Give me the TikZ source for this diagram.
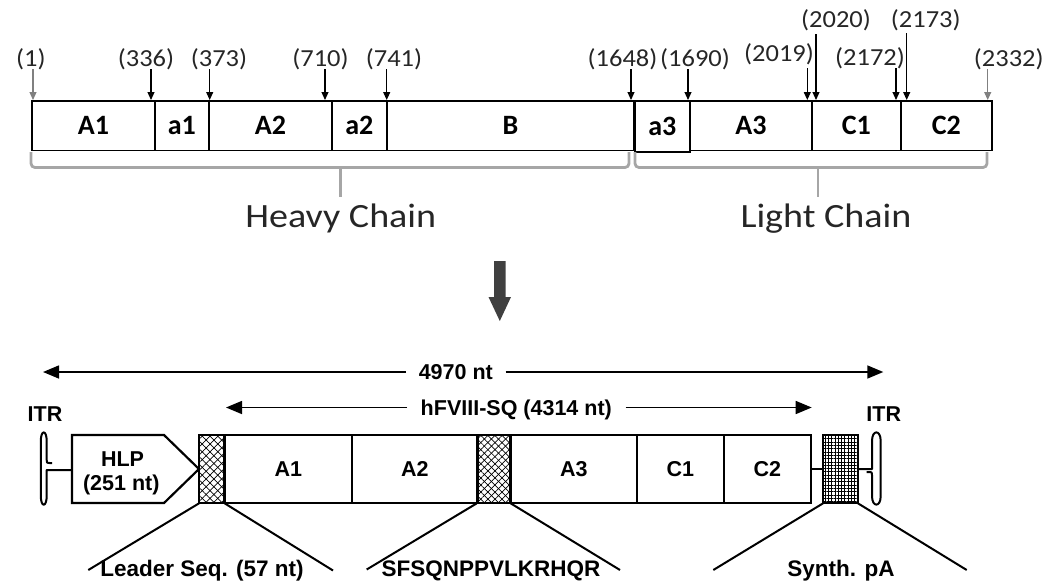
\documentclass[tikz,border=0pt]{standalone}
\usepackage{fontspec}
\setmainfont{Carlito}
\newfontfamily\arialf{Liberation Sans}
\usepackage{graphicx}
\usetikzlibrary{arrows.meta,patterns,patterns.meta}
\definecolor{brackgray}{HTML}{A6A6A6}
\definecolor{arrdark}{HTML}{404040}
\begin{document}
\begin{tikzpicture}[x=1pt,y=-1pt,
  topseg/.style={draw, line width=1.8pt, inner sep=0pt, minimum height=49.5pt, anchor=west,
    font=\fontsize{28}{28}\selectfont\bfseries},
  numlab/.style={font=\fontsize{24.5}{24.5}\selectfont, anchor=base, inner sep=0pt, text=black!85},
  pinarr/.style={line width=1.1pt, -{Triangle[length=8pt,width=7pt]}},
  brack/.style={draw=brackgray, line width=2.8pt, rounded corners=4pt},
  chainlab/.style={font=\fontsize{34}{34}\selectfont, anchor=base, inner sep=0pt, text=black!85},
  botfont/.style={font=\arialf\bfseries\fontsize{21.5}{21.5}\selectfont},
  fanfont/.style={font=\arialf\bfseries\fontsize{22.5}{22.5}\selectfont},
  botseg/.style={botfont, draw, line width=2.2pt, inner sep=0pt, minimum height=68pt, anchor=west,
    text height=15.5pt, text depth=0pt},
  botlab/.style={botfont, inner sep=0pt, text height=15.5pt, text depth=0pt},
  lenarr/.style={line width=1.5pt, -{Triangle[length=16pt,width=13pt]}},
  fan/.style={line width=2pt},
  itr/.style={line width=2pt, line join=round},
  leadpat/.style={preaction={pattern={Lines[angle=45,distance=5.5pt,line width=0.7pt]}},
    pattern={Lines[angle=-45,distance=5.5pt,line width=0.7pt]}},
  sqpat/.style={preaction={pattern={Lines[angle=45,distance=5pt,line width=0.7pt]}},
    pattern={Lines[angle=-45,distance=5pt,line width=0.7pt]}},
  papat/.style={preaction={pattern={Lines[angle=0,distance=3.3pt,line width=0.7pt]}},
    pattern={Lines[angle=90,distance=3.3pt,line width=0.7pt]}},
]
\useasboundingbox (0,0) rectangle (1043,584);

% ---------- top bar ----------
\node[topseg, minimum width=123pt] (tA1) at (31,125.75) {A1};
\node[topseg, minimum width=54pt]  (ta1) at (154,125.75) {a1};
\node[topseg, minimum width=123pt] (tA2) at (208,125.75) {A2};
\node[topseg, minimum width=55pt]  (ta2) at (331,125.75) {a2};
\node[topseg, minimum width=247pt] (tB)  at (386,125.75) {B};
\node[topseg, minimum width=55pt, minimum height=51pt] (ta3) at (634,126.5) {a3};
\node[topseg, minimum width=122pt] (tA3) at (689,125.75) {A3};
\node[topseg, minimum width=89pt]  (tC1) at (811,125.75) {C1};
\node[topseg, minimum width=91pt]  (tC2) at (900,125.75) {C2};

% position labels and arrows
\foreach \nm/\lx/\ly/\ax/\ay/\col in {
  1/30.8/66/33/69/gray, 336/146/66/151/69/black, 373/219/66/209.7/69/black,
  710/320.5/66/325/69/black, 741/394/66/386.7/69/black, 1648/622.5/66/631/69/black,
  1690/695/66/688/69/black, 2019/779/61/807.3/68/black, 2020/836/27/816/34/black,
  2172/870/65/896/68/black, 2173/925.8/27/906.7/33/black, 2332/1008.8/66/987.7/69/gray}{
  \node[numlab] (n\nm) at (\lx,\ly) {\scalebox{1.08}[1]{(\nm)}};
  \coordinate (t\nm) at (\ax,\ay);
  \coordinate (b\nm) at (\ax,100);
  \draw[pinarr, draw=\col, fill=\col] (t\nm) -- (b\nm);
}

% brackets
\draw[brack] (31,152) -- (31,167.5) -- (629,167.5) -- (629,152);
\draw[brackgray, line width=2.8pt] (340.5,167.5) -- (340.5,197);
\draw[brack] (635,152) -- (635,167.5) -- (987,167.5) -- (987,152);
\draw[brackgray, line width=2.8pt] (818,167.5) -- (818,197);
\node[chainlab] (hc) at (340.8,227) {\scalebox{1.12}[1]{Heavy Chain}};
\node[chainlab] (lc) at (826,227) {\scalebox{1.12}[1]{Light Chain}};

% big arrow
\fill[arrdark] (494,261) -- (505.7,261) -- (505.7,297) -- (511,297) -- (499.8,321)
  -- (488.5,297) -- (494,297) -- cycle;

% ---------- bottom construct ----------
\node[botlab, inner xsep=12.5pt] (len) at (455.8,372) {4970 nt};
\coordinate (lenL) at (43,372);
\coordinate (lenR) at (883.3,372);
\draw[lenarr] (len.west) -- (lenL);
\draw[lenarr] (len.east) -- (lenR);

\node[botlab, inner xsep=13.5pt] (sq) at (516.3,407.5) {hFVIII-SQ (4314 nt)};
\coordinate (sqL) at (226,407.5);
\coordinate (sqR) at (811.7,407.5);
\draw[lenarr] (sq.west) -- (sqL);
\draw[lenarr] (sq.east) -- (sqR);

\node[botlab] (itrL) at (45,413.5) {ITR};
\node[botlab] (itrR) at (883.7,413.5) {ITR};

% HLP promoter
\draw[line width=2.2pt, line join=miter] (72,435) -- (164,435) -- (199,469) -- (164,503) -- (72,503) -- cycle;
\node[botlab] (hlp1) at (122.5,459) {HLP};
\node[botlab] (hlp2) at (121.3,482.5) {(251 nt)};
\coordinate (hlpW) at (72,470);

% segments
\node[botseg, minimum width=25pt, leadpat] (lead) at (199,469) {};
\node[botseg, minimum width=126.7pt] (bA1) at (224,469) {A1};
\node[botseg, minimum width=126pt] (bA2) at (350.7,469) {A2};
\node[botseg, minimum width=33.3pt, sqpat] (bsq) at (476.7,469) {};
\node[botseg, minimum width=125.7pt] (bA3) at (510,469) {A3};
\node[botseg, minimum width=87pt] (bC1) at (635.7,469) {C1};
\node[botseg, minimum width=87.3pt] (bC2) at (722.7,469) {C2};
\node[botseg, minimum width=34.3pt, papat] (bpa) at (823,469) {};
\draw[line width=2.2pt] (bC2.east) -- (bpa.west);

% left ITR hairpin
\draw[itr] (52,463) -- (49.5,463) .. controls (46.7,463) .. (46.7,460) -- (46.7,441)
  .. controls (46.7,429.5) and (40.8,429.5) .. (40.8,441) -- (40.8,496)
  .. controls (40.8,507.5) and (46.7,507.5) .. (46.7,496) -- (46.7,470) -- (hlpW);
% right ITR hairpin
\coordinate (itrRstem) at (872,469);
\draw[itr] (bpa.east) -- (itrRstem) -- (872,441)
  .. controls (872,429.5) and (880.7,429.5) .. (880.7,441) -- (880.7,496)
  .. controls (880.7,507.5) and (872,507.5) .. (872,496) -- (872,475)
  .. controls (872,472) .. (869,472) -- (866.5,472);

% fan-out lines and labels
\node[botlab, fanfont] (leadlab) at (202,569) {Leader Seq. (57 nt)};
\node[botlab, fanfont] (sqlab) at (491,569) {SFSQNPPVLKRHQR};
\node[botlab, fanfont] (palab) at (841,569) {Synth. pA};
\coordinate (f1) at (88.3,570);
\coordinate (f2) at (333,570.5);
\coordinate (f3) at (366.7,569.5);
\coordinate (f4) at (620,570);
\coordinate (f5) at (713.3,570);
\coordinate (f6) at (966.7,570);
\draw[fan] (lead.south west) -- (f1);
\draw[fan] (lead.south east) -- (f2);
\draw[fan] (bsq.south west) -- (f3);
\draw[fan] (bsq.south east) -- (f4);
\draw[fan] (bpa.south west) -- (f5);
\draw[fan] (bpa.south east) -- (f6);
\end{tikzpicture}
\end{document}
